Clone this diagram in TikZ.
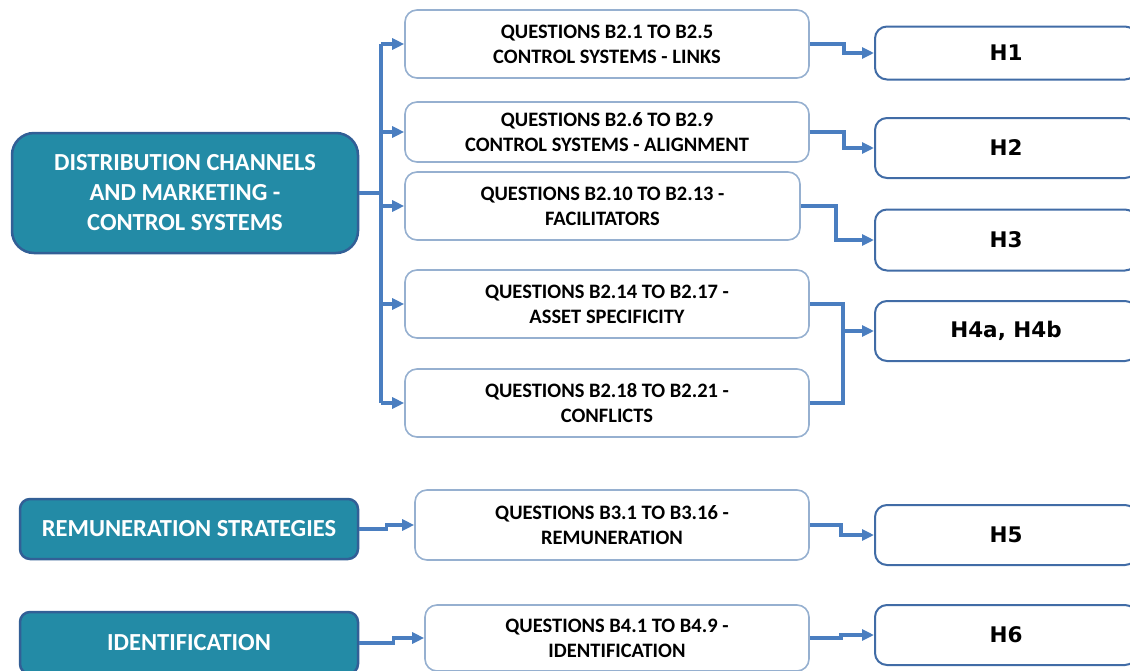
\documentclass[tikz,border=0pt]{standalone}
\usepackage{fontspec}
\setmainfont{Carlito}
\newfontfamily\hfont{DejaVu Sans}
\usetikzlibrary{arrows.meta,calc}
\definecolor{teal1}{RGB}{35,139,166}
\definecolor{tealborder}{RGB}{50,95,150}
\definecolor{qborder}{RGB}{150,176,208}
\definecolor{hborder}{RGB}{65,108,166}
\definecolor{conn}{RGB}{74,126,192}
\tikzset{
  srcbox/.style={draw=tealborder, line width=2.5pt, fill=teal1, rounded corners=22pt, text=white,
    font=\fontsize{24.5}{30}\selectfont\bfseries, align=center, inner sep=0pt},
  srcsmall/.style={srcbox, rounded corners=10pt},
  qbox/.style={draw=qborder, line width=1.6pt, fill=white, rounded corners=12pt, text=black,
    font=\fontsize{20.5}{25}\selectfont\bfseries, align=center, inner sep=0pt, minimum width=404pt},
  hbox/.style={draw=hborder, line width=2pt, fill=white, rounded corners=12pt, text=black,
    font=\hfont\fontsize{21.5}{24}\selectfont\bfseries, align=center, inner sep=0pt, minimum width=262pt},
  link/.style={draw=conn, line width=3.5pt},
  arr/.style={link, -{Triangle[length=12pt,width=11pt]}},
}
\begin{document}
\begin{tikzpicture}[x=1pt,y=-1pt]
\useasboundingbox (0,0) rectangle (1130,670);
\clip (0,0) rectangle (1130,670);
% source boxes
\node[srcbox, minimum width=346pt, minimum height=120pt] (dist) at (185,193) {DISTRIBUTION CHANNELS\\AND MARKETING -\\CONTROL SYSTEMS};
\node[srcsmall, minimum width=338pt, minimum height=60pt] (rem) at (189,529) {REMUNERATION STRATEGIES};
\node[srcsmall, minimum width=338pt, minimum height=62pt] (ident) at (189,643) {IDENTIFICATION};
% question boxes
\node[qbox, minimum height=68pt] (b1) at (607,44) {QUESTIONS B2.1 TO B2.5\\CONTROL SYSTEMS - LINKS};
\node[qbox, minimum height=60pt] (b2) at (607,132) {QUESTIONS B2.6 TO B2.9\\CONTROL SYSTEMS - ALIGNMENT};
\node[qbox, minimum width=395pt, minimum height=68pt] (b3) at (602.5,206) {QUESTIONS B2.10 TO B2.13 -\\FACILITATORS};
\node[qbox, minimum height=68pt] (b4) at (607,304) {QUESTIONS B2.14 TO B2.17 -\\ASSET SPECIFICITY};
\node[qbox, minimum height=68pt] (b5) at (607,403) {QUESTIONS B2.18 TO B2.21 -\\CONFLICTS};
\node[qbox, minimum width=394pt, minimum height=70pt] (b6) at (612,525) {QUESTIONS B3.1 TO B3.16 -\\REMUNERATION};
\node[qbox, minimum width=384pt, minimum height=66pt] (b7) at (617,638) {QUESTIONS B4.1 TO B4.9 -\\IDENTIFICATION};
% hypothesis boxes
\node[hbox, minimum height=53pt] (h1) at (1006,53) {H1};
\node[hbox, minimum height=60pt] (h2) at (1006,148) {H2};
\node[hbox, minimum height=61pt] (h3) at (1006,240) {H3};
\node[hbox, minimum height=60pt] (h4) at (1006,331) {H4a, H4b};
\node[hbox, minimum height=60pt] (h5) at (1006,535) {H5};
\node[hbox, minimum height=60pt] (h6) at (1006,635) {H6};
% trunk
\coordinate (tr) at (381,193);
\draw[link] (dist.east) -- (tr);
\draw[link] (tr |- b1.west) -- (tr |- b5.west);
\foreach \b in {b1,b2,b3,b4,b5} { \draw[arr] (tr |- \b.west) -- (\b.west); }
% to hypotheses
\draw[arr] (b1.east) -- ++(34,0) |- (h1.west);
\draw[arr] (b2.east) -- ++(34,0) |- (h2.west);
\draw[arr] (b3.east) -- ++(35,0) |- (h3.west);
\coordinate (j4) at (843,331);
\draw[link] (b4.east) -| (j4);
\draw[link] (b5.east) -| (j4);
\draw[arr] (j4) -- (h4.west);
\draw[arr] (rem.east) -- ++(27,0) |- (b6.west);
\draw[arr] (ident.east) -- ++(34,0) |- (b7.west);
\draw[arr] (b6.east) -- ++(31,0) |- (h5.west);
\draw[arr] (b7.east) -- ++(31,0) |- (h6.west);
\end{tikzpicture}
\end{document}
